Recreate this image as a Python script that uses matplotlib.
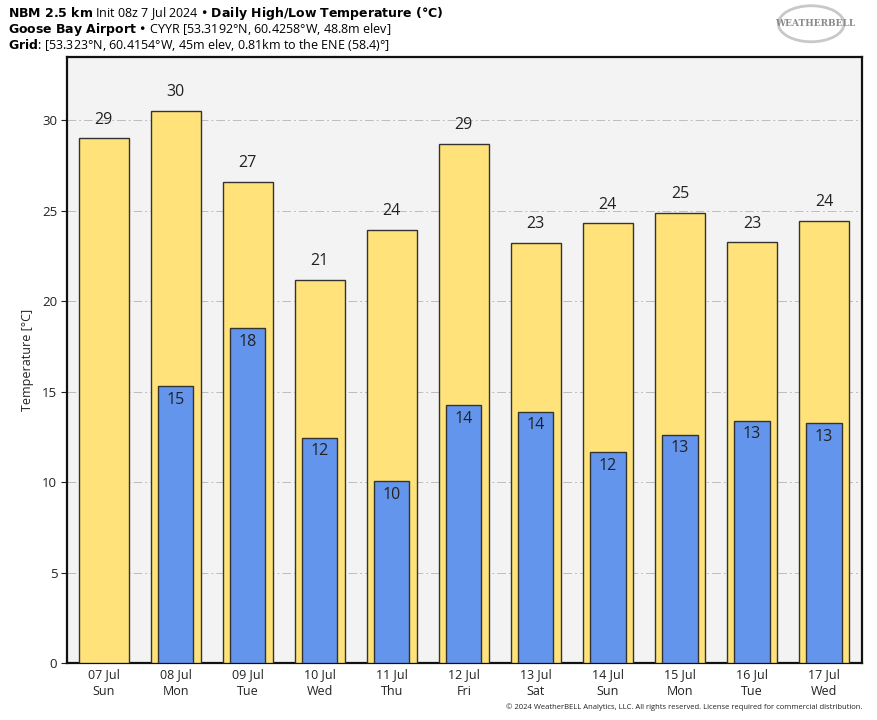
import matplotlib
matplotlib.use("Agg")
import matplotlib.pyplot as plt
from matplotlib.patches import Ellipse

plt.rcParams['font.family'] = ['Open Sans', 'DejaVu Sans']

dates = ["07 Jul", "08 Jul", "09 Jul", "10 Jul", "11 Jul", "12 Jul",
         "13 Jul", "14 Jul", "15 Jul", "16 Jul", "17 Jul"]
days = ["Sun", "Mon", "Tue", "Wed", "Thu", "Fri", "Sat", "Sun", "Mon", "Tue", "Wed"]
highs = [29.0, 30.5, 26.6, 21.2, 23.95, 28.7, 23.2, 24.3, 24.9, 23.25, 24.45]
lows = [None, 15.3, 18.5, 12.45, 10.05, 14.25, 13.9, 11.65, 12.6, 13.4, 13.25]
high_labels = [29, 30, 27, 21, 24, 29, 23, 24, 25, 23, 24]
low_labels = [None, 15, 18, 12, 10, 14, 14, 12, 13, 13, 13]

fig = plt.figure(figsize=(8.77, 7.2), dpi=100)
ax = fig.add_axes([0.0764, 0.0792, 0.9066, 0.8416])
ax.set_facecolor('#f3f3f3')

x = list(range(len(dates)))
ax.bar(x, highs, width=0.69, color='#ffe27a', edgecolor='#333333', linewidth=1.0, zorder=3)
lx = [i for i, v in zip(x, lows) if v is not None]
lv = [v for v in lows if v is not None]
ax.bar(lx, lv, width=0.49, color='#6495ed', edgecolor='#333333', linewidth=1.0, zorder=4)

for i, (h, hl) in enumerate(zip(highs, high_labels)):
    ax.text(i, h + 0.6, str(hl), ha='center', va='bottom', fontsize=11.5, color='#222222', zorder=5)
for i, (l, ll) in enumerate(zip(lows, low_labels)):
    if l is not None:
        ax.text(i, l - 0.3, str(ll), ha='center', va='top', fontsize=11.5, color='#222222', zorder=5)

ax.set_xlim(-0.51, 10.53)
ax.set_ylim(0, 33.5)
ax.set_yticks([0, 5, 10, 15, 20, 25, 30])
ax.set_xticks(x)
ax.set_xticklabels([f"{d}\n{w}" for d, w in zip(dates, days)], fontsize=9, linespacing=1.3)
ax.tick_params(axis='x', length=0, pad=4, colors='#222222')
ax.tick_params(axis='y', length=4, width=0.8, labelsize=9.5, colors='#222222', pad=3)
ax.yaxis.grid(True, linestyle=(0, (9, 3, 2, 3)), color='#bdbdbd', linewidth=0.7, zorder=1)
ax.set_ylabel('Temperature [°C]', fontsize=9, color='#222222', labelpad=6)
for s in ax.spines.values():
    s.set_linewidth(1.6)
    s.set_color('#111111')

fs = 9
fig.text(0.009, 0.993, r"$\bf{NBM\ 2.5\ km}$ Init 08z 7 Jul 2024 • $\bf{Daily\ High/Low\ Temperature\ (°C)}$",
         fontsize=fs, va='top', ha='left')
fig.text(0.009, 0.971, r"$\bf{Goose\ Bay\ Airport}$ • CYYR [53.3192°N, 60.4258°W, 48.8m elev]",
         fontsize=fs, va='top', ha='left')
fig.text(0.009, 0.949, r"$\bf{Grid}$: [53.323°N, 60.4154°W, 45m elev, 0.81km to the ENE (58.4)°]",
         fontsize=fs, va='top', ha='left')

# logo approximation
fig.text(0.93, 0.967, "WEATHERBELL", fontsize=6.5, color='#8a8a8a', ha='center', va='center',
         fontweight='bold', family='DejaVu Serif')
fig.patches.append(Ellipse((0.925, 0.967), 0.075, 0.05, transform=fig.transFigure,
                           fill=False, edgecolor='#c8c8c8', linewidth=2))

fig.text(0.983, 0.012, "© 2024 WeatherBELL Analytics, LLC. All rights reserved. License required for commercial distribution.",
         fontsize=5.5, ha='right', va='bottom', color='#222222')

fig.savefig('out.png', dpi=100)
